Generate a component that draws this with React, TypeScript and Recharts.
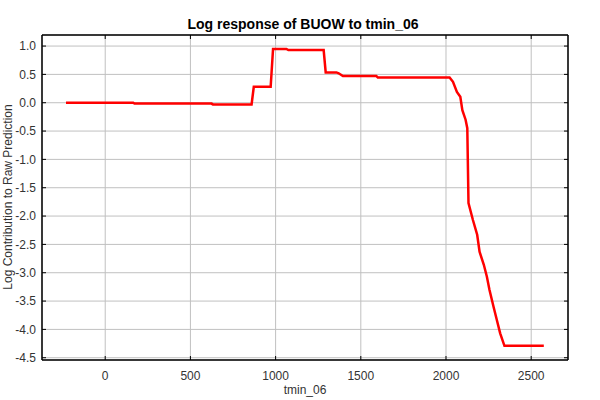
import { LineChart, Line, XAxis, YAxis, CartesianGrid } from "recharts";

// curve breakpoints
const tmin = [
  -230, 164, 172, 624, 632, 859, 872, 971, 985, 1063, 1075, 1282, 1294, 1357, 1370, 1395,
  1591, 1600, 2021, 2041, 2064, 2084, 2096, 2115, 2125, 2128, 2132, 2158, 2183, 2197,
  2222, 2240, 2255, 2279, 2298, 2318, 2343, 2574,
];
const contribution = [
  0.0, 0.0, -0.015, -0.015, -0.03, -0.03, 0.28, 0.28, 0.95, 0.95, 0.93, 0.93, 0.535, 0.535,
  0.52, 0.47, 0.47, 0.447, 0.447, 0.37, 0.19, 0.106, -0.13, -0.3, -0.45, -1.01, -1.77, -2.07,
  -2.33, -2.63, -2.86, -3.07, -3.3, -3.6, -3.83, -4.07, -4.29, -4.29,
];
const xTicks = [0, 500, 1000, 1500, 2000, 2500];
const yTicks = [-4.5, -4.0, -3.5, -3.0, -2.5, -2.0, -1.5, -1.0, -0.5, 0.0, 0.5, 1.0];

const data = tmin.map((x, i) => ({ x, y: contribution[i] }));

const xDomain = [-371, 2716];
const yDomain = [-4.54, 1.195];

const font = "'Liberation Sans', Arial, sans-serif";
const tickStyle = { fill: "#333", fontSize: 12, fontFamily: font };
const axisLine = { stroke: "#000", strokeWidth: 1.5 };
const tickLine = { stroke: "#000" };
const blank = () => "";

export default function App() {
  return (
    <div style={{ position: "absolute", left: 0, top: 0, width: 600, height: 400, background: "#fff", fontFamily: font }}>
      <LineChart width={600} height={400} data={data} margin={{ top: 0, right: 0, bottom: 0, left: 0 }}>
        <CartesianGrid stroke="#c0c0c0" strokeWidth={1} />
        <XAxis
          dataKey="x"
          type="number"
          domain={xDomain}
          ticks={xTicks}
          allowDataOverflow
          height={40}
          tickSize={-4}
          tickMargin={15}
          tick={tickStyle}
          axisLine={axisLine}
          tickLine={tickLine}
        />
        <XAxis
          xAxisId="top"
          orientation="top"
          dataKey="x"
          type="number"
          domain={xDomain}
          ticks={xTicks}
          allowDataOverflow
          height={35}
          tickSize={-4}
          tickFormatter={blank}
          axisLine={axisLine}
          tickLine={tickLine}
        />
        <YAxis
          type="number"
          domain={yDomain}
          ticks={yTicks}
          allowDataOverflow
          width={42}
          tickSize={-4}
          tickMargin={10}
          tick={tickStyle}
          tickFormatter={(v: number) => v.toFixed(1)}
          axisLine={axisLine}
          tickLine={tickLine}
        />
        <YAxis
          yAxisId="right"
          orientation="right"
          type="number"
          domain={yDomain}
          ticks={yTicks}
          allowDataOverflow
          width={32}
          tickSize={-4}
          tickFormatter={blank}
          axisLine={axisLine}
          tickLine={tickLine}
        />
        <Line
          type="linear"
          dataKey="y"
          stroke="#ff0000"
          strokeWidth={2.5}
          dot={false}
          isAnimationActive={false}
        />
      </LineChart>
      <svg width={600} height={400} style={{ position: "absolute", left: 0, top: 0, pointerEvents: "none" }}>
        <text x={303} y={29} textAnchor="middle" fontSize={14} fontWeight="bold" fill="#000" fontFamily={font}>
          Log response of BUOW to tmin_06
        </text>
        <text x={305} y={394} textAnchor="middle" fontSize={12} fill="#333" fontFamily={font}>
          tmin_06
        </text>
        <text x={12} y={197} textAnchor="middle" fontSize={12} fill="#333" fontFamily={font} transform="rotate(-90 12 197)">
          Log Contribution to Raw Prediction
        </text>
      </svg>
    </div>
  );
}
